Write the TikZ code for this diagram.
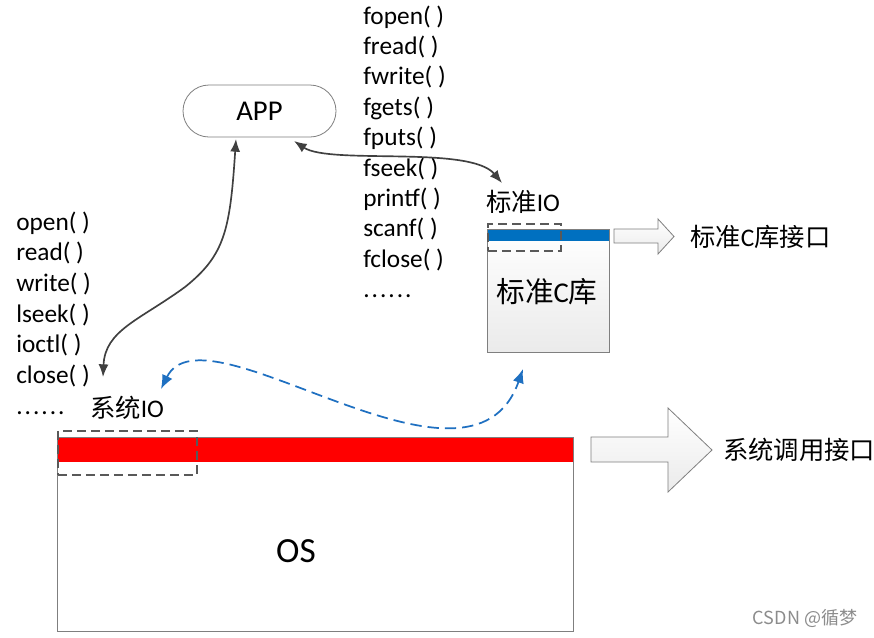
\documentclass[tikz,border=0pt]{standalone}
\usepackage{fontspec}
\setmainfont{Carlito}
\newfontfamily\cjk{Noto Sans CJK SC}
\usetikzlibrary{arrows.meta,shapes.misc}
\definecolor{tipgray}{HTML}{404040}
\definecolor{dashgray}{HTML}{595959}
\definecolor{boxgray}{HTML}{7F7F7F}
\definecolor{bluebar}{HTML}{0070C0}
\definecolor{arrowblue}{HTML}{1F70C1}
\newcommand{\sixdots}{.\hspace{1.5pt}.\hspace{1.5pt}.\hspace{1.5pt}.\hspace{1.5pt}.\hspace{1.5pt}.}
\begin{document}
\begin{tikzpicture}[x=0.75pt,y=-0.75pt,
  lbl/.style={font=\fontsize{19}{22.8}\selectfont, inner sep=0pt},
  fn/.style={lbl, anchor=base west},
  grayconn/.style={draw=tipgray, line width=1.25pt, {Latex[length=9.5pt,width=7.5pt]}-{Latex[length=9.5pt,width=7.5pt]}},
  blueconn/.style={draw=arrowblue, line width=1.3pt, dash pattern=on 8.5pt off 4.5pt, {Latex[length=10.5pt,width=8.5pt]}-{Latex[length=10.5pt,width=8.5pt]}},
  iobox/.style={draw=dashgray, line width=1.4pt, dash pattern=on 7pt off 3.5pt},
  fatarrow/.style={draw=boxgray, line width=0.6pt, top color=white, bottom color=black!8}
]
\useasboundingbox[fill=white] (0,0) rectangle (874,637);

% APP
\node[draw=boxgray, line width=0.6pt, rounded rectangle, minimum width=114.75pt, minimum height=39pt, inner sep=0pt,
      font=\fontsize{21.5}{24}\selectfont] (app) at (259.5,111) {APP};
\coordinate (appL) at (236,139);
\coordinate (appR) at (294,141);

% function lists
\foreach \t [count=\i from 0] in {fopen( ),fread( ),fwrite( ),fgets( ),fputs( ),fseek( ),printf( ),scanf( ),fclose( ),\sixdots}
  \node[fn] (rf\i) at (363,{24+30.4*\i}) {\t};
\foreach \t [count=\i from 0] in {open( ),read( ),write( ),lseek( ),ioctl( ),close( ),\sixdots}
  \node[fn] (lf\i) at (16,{230+30.7*\i}) {\t};

% standard C library box
\node[draw=boxgray, line width=0.6pt, top color=white, bottom color=black!8, minimum width=91.5pt, minimum height=92.25pt, inner sep=0pt, anchor=north west] (clib) at (487,229) {};
\fill[bluebar] (487.5,229.5) rectangle (608.5,241);
\node[lbl, font=\fontsize{21.5}{24}\selectfont] (clibtxt) at (547,292) {{\cjk 标准}C{\cjk 库}};
\node[iobox, minimum width=54.75pt, minimum height=20.25pt, inner sep=0pt, anchor=north west] (stdio) at (487,223) {};
\node[lbl] (stdiotxt) at (523,202) {{\cjk 标准}IO};

% small fat arrow
\path[fatarrow] (614,229) -- (658,229) -- (658,219) -- (674,236.5) -- (658,254) -- (658,243) -- (614,243) -- cycle;
\node[lbl, anchor=west] (clibif) at (690,237) {{\cjk 标准}C{\cjk 库接口}};

% OS box
\node[draw=boxgray, line width=0.6pt, fill=white, minimum width=387pt, minimum height=145.5pt, inner sep=0pt, anchor=north west] (os) at (57,437) {};
\fill[red] (57.5,437.5) rectangle (572.5,462);
\node[lbl, font=\fontsize{26.5}{30}\selectfont] (ostxt) at (296,551) {OS};
\node[iobox, minimum width=104.25pt, minimum height=33pt, inner sep=0pt, anchor=north west] (sysio) at (57,430) {};
\node[lbl] (sysiotxt) at (127,408) {{\cjk 系统}IO};

% big fat arrow
\path[fatarrow] (591,437) -- (668,437) -- (668,408) -- (712,450) -- (668,492) -- (668,462) -- (591,462) -- cycle;
\node[lbl, anchor=west] (sysif) at (723,450) {\cjk 系统调用接口};

% connectors
\coordinate (sysend) at (103,377);
\coordinate (stdend) at (502,183);
\coordinate (mid) at (185,287);
\draw[grayconn] (appL) .. controls (230,230) and (225,255) .. (mid) .. controls (140,320) and (105,330) .. (sysend);
\draw[grayconn] (appR) .. controls (330,165) and (470,145) .. (stdend);
\coordinate (bl) at (161,389);
\coordinate (br) at (523,369);
\draw[blueconn] (bl) .. controls (205,300) and (470,520) .. (br);

% watermark
\node[inner sep=0pt, text=black!45, font=\cjk\fontsize{13.5}{15}\selectfont] (wm) at (805,618) {CSDN @循梦};
\end{tikzpicture}
\end{document}
